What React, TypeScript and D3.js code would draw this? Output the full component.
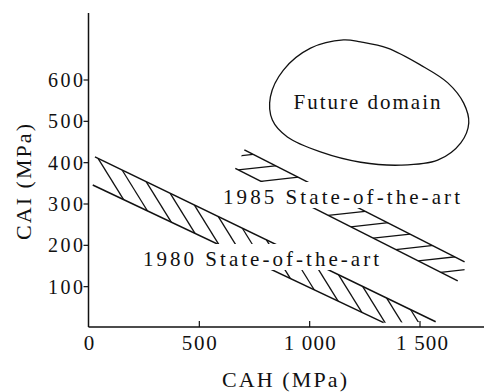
import React from 'react';
import * as d3 from 'd3';

// Axis ticks
const xTicks = [0, 500, 1000, 1500];
const xTickLabels = ['0', '500', '1 000', '1 500'];
const yTicks = [100, 200, 300, 400, 500, 600];
const yTickLabels = ['100', '200', '300', '400', '500', '600'];

// 1980 state-of-the-art band (CAH, CAI)
const band1980Upper: [number, number][] = [[27, 414], [1571, 15]];
const band1980Lower: [number, number][] = [[17, 346], [1335, 13]];
const hatch1980 = [41, 150, 259, 368, 477, 586, 695, 804, 913, 1022, 1131, 1240, 1349, 1458];

// 1985 state-of-the-art band (CAH, CAI)
const band1985Upper: [number, number][] = [[704, 431], [1702, 160]];
const band1985Lower: [number, number][] = [[663, 386], [1671, 114]];
const hatch1985 = [574, 676, 778, 880, 982, 1084, 1186, 1288, 1390, 1492, 1594];

// Future domain outline (CAH, CAI)
const futureDomain: [number, number][] = [
  [1153, 697], [1004, 677], [881, 624], [822, 559], [831, 503], [899, 462],
  [1049, 426], [1231, 401], [1412, 394], [1580, 406], [1685, 448], [1721, 496],
  [1698, 544], [1626, 593], [1503, 636], [1353, 677], [1231, 692],
];

const label1980 = '1980 State-of-the-art';
const label1985 = '1985 State-of-the-art';
const labelFuture = 'Future domain';
const xTitle = 'CAH (MPa)';
const yTitle = 'CAI (MPa)';

const W = 484;
const H = 392;
const FONT = "'Liberation Serif'";

export default function App() {
  const x = d3.scaleLinear().domain([0, 1500]).range([89, 420]);
  const y = d3.scaleLinear().domain([0, 600]).range([328, 80]);
  const axisX = 88.5;
  const axisY = 327;

  const px = (p: [number, number]): [number, number] => [x(p[0]), y(p[1])];
  const onLine = (seg: [number, number][], cah: number): [number, number] => {
    const [a, b] = seg;
    const t = (cah - a[0]) / (b[0] - a[0]);
    return [x(cah), y(a[1] + t * (b[1] - a[1]))];
  };

  const line = d3.line<[number, number]>().x((d) => d[0]).y((d) => d[1]);
  const blob = d3
    .line<[number, number]>()
    .x((d) => x(d[0]))
    .y((d) => y(d[1]))
    .curve(d3.curveCatmullRomClosed.alpha(0.5));

  const u80 = band1980Upper.map(px);
  const l80 = band1980Lower.map(px);
  const clip80 = [u80[0], u80[1], l80[1], l80[0]];
  const hatches80 = hatch1980.map((h) => {
    const s = onLine(band1980Upper, h);
    return [s, [s[0] + 0.62 * 60, s[1] + 60]] as [number, number][];
  });

  const u85 = band1985Upper.map(px);
  const l85 = band1985Lower.map(px);
  const clip85 = [u85[0], u85[1], [u85[1][0], l85[1][1]] as [number, number], l85[1], l85[0]];
  const hatches85 = hatch1985.map((h) => {
    const s = onLine(band1985Lower, h);
    return [s, [s[0] + 60, s[1] - 0.11 * 60]] as [number, number][];
  });

  const stroke = '#111';
  const ts = { fontFamily: FONT };

  const lab80 = { x: 143, base: 266, len: 236 };
  const lab85 = { x: 223, base: 204, len: 237 };

  return (
    <svg
      width={W}
      height={H}
      style={{ position: 'absolute', left: 0, top: 0, background: '#fff', fontFamily: FONT }}
    >
      <rect x={0} y={0} width={W} height={H} fill="#fff" />
      <defs>
        <clipPath id="clip80">
          <polygon points={clip80.map((p) => p.join(',')).join(' ')} />
        </clipPath>
        <clipPath id="clip85">
          <polygon points={clip85.map((p) => p.join(',')).join(' ')} />
        </clipPath>
      </defs>

      {/* axes */}
      <line x1={axisX} y1={13} x2={axisX} y2={axisY} stroke={stroke} strokeWidth={1.5} />
      <line x1={axisX} y1={axisY} x2={484} y2={axisY} stroke={stroke} strokeWidth={1.5} />
      {yTicks.map((t, i) => (
        <g key={'y' + t}>
          <line x1={83.5} x2={axisX} y1={y(t)} y2={y(t)} stroke={stroke} strokeWidth={1.2} />
          <text style={ts} x={83} y={y(t) + 7} textAnchor="end" fontSize={20} textLength={35} lengthAdjust="spacing" fill={stroke}>
            {yTickLabels[i]}
          </text>
        </g>
      ))}
      {xTicks.map((t, i) => (
        <g key={'x' + t}>
          {t !== 0 && (
            <line x1={x(t)} x2={x(t)} y1={axisY - 6} y2={axisY} stroke={stroke} strokeWidth={1.2} />
          )}
          <text
            style={ts}
            x={x(t) + (t === 1500 ? 2 : 0)}
            y={350}
            textAnchor="middle"
            fontSize={21}
            fill={stroke}
            {...(t === 0 ? {} : { textLength: t >= 1000 ? 52 : 35, lengthAdjust: 'spacing' })}
          >
            {xTickLabels[i]}
          </text>
        </g>
      ))}
      <text style={ts} x={284.5} y={387} textAnchor="middle" fontSize={22} textLength={125} lengthAdjust="spacing" fill={stroke}>
        {xTitle}
      </text>
      <text
        style={ts}
        transform="translate(31,182) rotate(-90)"
        textAnchor="middle"
        fontSize={22}
        textLength={116}
        lengthAdjust="spacing"
        fill={stroke}
      >
        {yTitle}
      </text>

      {/* 1980 band */}
      <path d={line(u80) || ''} fill="none" stroke={stroke} strokeWidth={1.5} />
      <path d={line(l80) || ''} fill="none" stroke={stroke} strokeWidth={1.5} />
      <g clipPath="url(#clip80)">
        {hatches80.map((h, i) => (
          <path key={i} d={line(h) || ''} stroke={stroke} strokeWidth={1.3} fill="none" />
        ))}
      </g>

      {/* 1985 band */}
      <path d={line(u85) || ''} fill="none" stroke={stroke} strokeWidth={1.5} />
      <path d={line(l85) || ''} fill="none" stroke={stroke} strokeWidth={1.5} />
      <g clipPath="url(#clip85)">
        {hatches85.map((h, i) => (
          <path key={i} d={line(h) || ''} stroke={stroke} strokeWidth={1.3} fill="none" />
        ))}
      </g>

      {/* label gaps */}
      <rect x={lab80.x - 3} y={lab80.base - 22} width={lab80.len + 6} height={26} fill="#fff" />
      <rect x={lab85.x - 3} y={lab85.base - 22} width={lab85.len + 6} height={26} fill="#fff" />
      <text style={ts} x={lab80.x} y={lab80.base} fontSize={21} textLength={lab80.len} lengthAdjust="spacing" fill={stroke}>
        {label1980}
      </text>
      <text style={ts} x={lab85.x} y={lab85.base} fontSize={21} textLength={lab85.len} lengthAdjust="spacing" fill={stroke}>
        {label1985}
      </text>

      {/* future domain */}
      <path d={blob(futureDomain) || ''} fill="none" stroke={stroke} strokeWidth={1.3} />
      <text style={ts} x={293.5} y={109} fontSize={21} textLength={147} lengthAdjust="spacing" fill={stroke}>
        {labelFuture}
      </text>
    </svg>
  );
}
